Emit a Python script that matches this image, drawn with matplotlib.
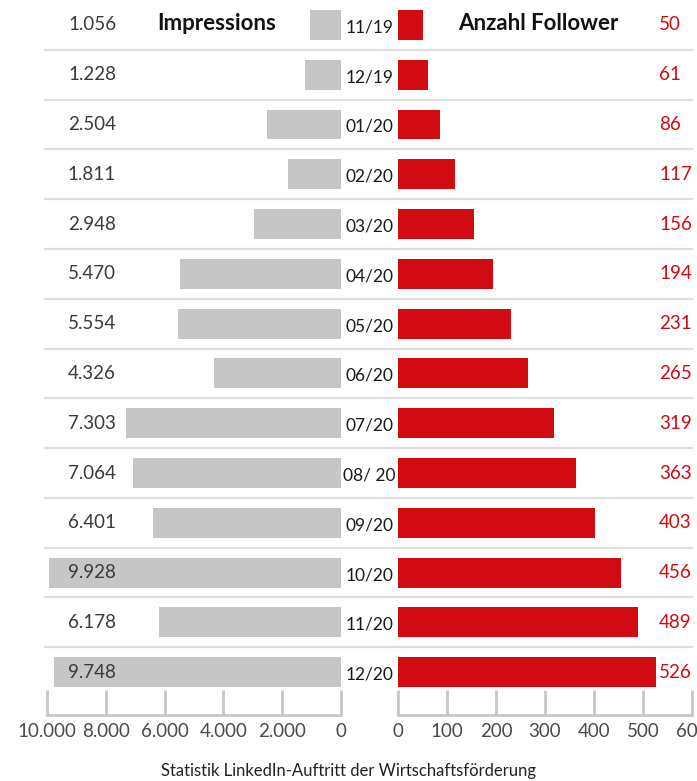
import matplotlib.pyplot as plt
from matplotlib.ticker import FuncFormatter

plt.rcParams['font.family'] = ['Lato', 'DejaVu Sans']

months = ['11/19', '12/19', '01/20', '02/20', '03/20', '04/20', '05/20',
          '06/20', '07/20', '08/ 20', '09/20', '10/20', '11/20', '12/20']
impressions = [1056, 1228, 2504, 1811, 2948, 5470, 5554,
               4326, 7303, 7064, 6401, 9928, 6178, 9748]
followers = [50, 61, 86, 117, 156, 194, 231, 265, 319, 363, 403, 456, 489, 526]

GREY = '#c6c6c6'
RED = '#d20a12'
SEP = '#dedede'
AXIS = '#c8c8c8'

W, H = 697, 781
fig = plt.figure(figsize=(W / 100, H / 100), dpi=100)

bottom = (H - 715) / H
height = 715 / H
ax_l = fig.add_axes([47 / W, bottom, (341 - 47) / W, height])
ax_r = fig.add_axes([398 / W, bottom, (692 - 398) / W, height])
ax_bg = fig.add_axes([44 / W, bottom, (693 - 44) / W, height], zorder=-1)

ylim = (len(months) - 1 + 0.86, -0.5)
pos = list(range(len(months)))

# separators
ax_bg.set_xlim(0, 1)
ax_bg.set_ylim(*ylim)
for i in pos[:-1]:
    ax_bg.axhline(i + 0.5, color=SEP, lw=1.6)
ax_bg.axis('off')

def de_fmt(v, _):
    return f'{int(v):,}'.replace(',', '.')

# left: impressions
ax_l.barh(pos, impressions, height=0.6, color=GREY)
ax_l.set_xlim(10000, 0)
ax_l.set_ylim(*ylim)
ax_l.set_xticks(range(0, 10001, 2000))
ax_l.xaxis.set_major_formatter(FuncFormatter(de_fmt))
for i, v in enumerate(impressions):
    ax_l.text(7650, i, de_fmt(v, None), ha='right', va='center',
              fontsize=13.5, color='#3a3a3a')
ax_l.text(4220, -0.02, 'Impressions', ha='center', va='center',
          fontsize=16, fontweight='bold', color='#111111')

# right: followers
ax_r.barh(pos, followers, height=0.6, color=RED)
ax_r.set_xlim(0, 600)
ax_r.set_ylim(*ylim)
ax_r.set_xticks(range(0, 601, 100))
for i, v in enumerate(followers):
    ax_r.text(533, i, str(v), ha='left', va='center',
              fontsize=13.5, color=RED)
ax_r.text(286, -0.02, 'Anzahl Follower', ha='center', va='center',
          fontsize=16, fontweight='bold', color='#111111')

# month labels in the gap
for i, m in enumerate(months):
    ax_r.text(-58, i + 0.05, m, ha='center', va='center',
              fontsize=12.5, color='#1a1a1a', clip_on=False, zorder=5)

for ax in (ax_l, ax_r):
    ax.set_facecolor('none')
    for s in ('top', 'left', 'right'):
        ax.spines[s].set_visible(False)
    ax.spines['bottom'].set_color(AXIS)
    ax.spines['bottom'].set_linewidth(2)
    ax.set_yticks([])
    ax.tick_params(axis='x', direction='in', length=18, width=2, color=AXIS,
                   labelsize=13.5, labelcolor='#4a4a4a', pad=6)

fig.text(0.5, 10 / H, 'Statistik LinkedIn-Auftritt der Wirtschaftsförderung',
         ha='center', va='center', fontsize=12, color='#222222')

fig.savefig('out.png', dpi=100)
